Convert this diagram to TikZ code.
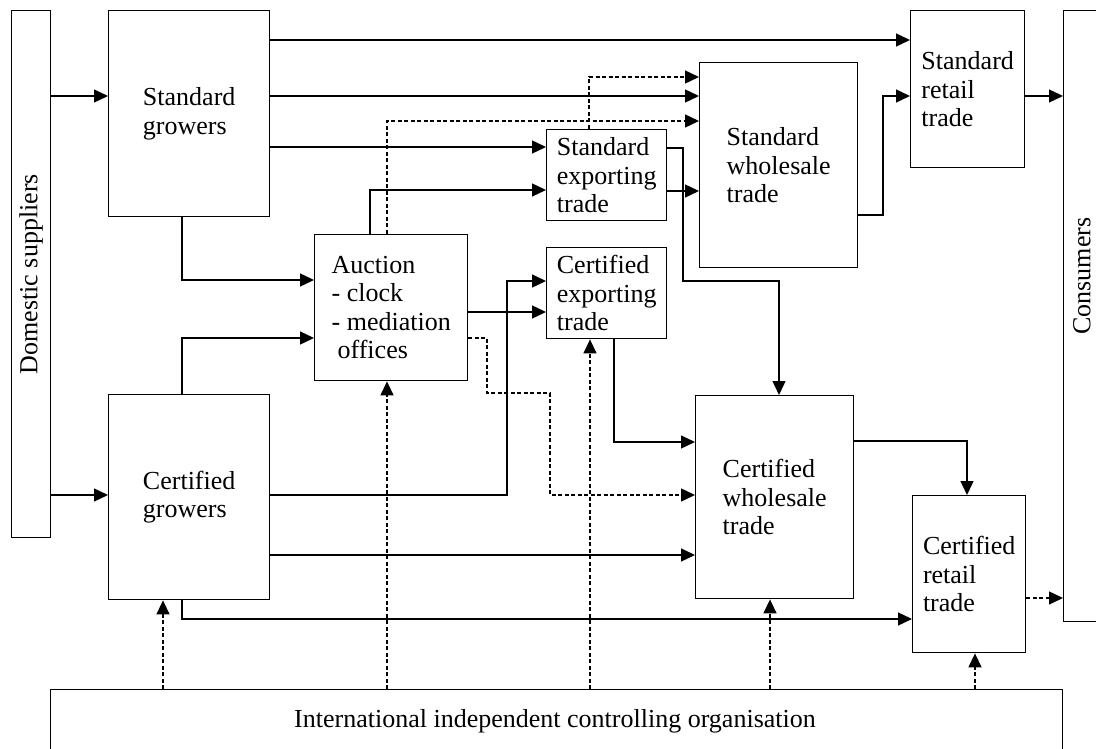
\documentclass[tikz,border=0pt]{standalone}
\usepackage{fontspec}
\setmainfont{Liberation Serif}
\usetikzlibrary{arrows.meta}
\begin{document}
\begin{tikzpicture}[x=1pt,y=-1pt,
  box/.style={draw, line width=1.4pt, rectangle, inner sep=0pt, anchor=north west, align=left, font=\fontsize{26}{28.5}\selectfont},
  txt/.style={inner sep=0pt, font=\fontsize{26}{28.5}\selectfont},
  ln/.style={line width=1.4pt},
  arr/.style={ln, -{Triangle[length=14pt,width=13pt]}},
  dsh/.style={dash pattern=on 4pt off 2.5pt}]
\useasboundingbox (0,0) rectangle (1096,749);

% boxes
\node[box, minimum width=39pt,  minimum height=527pt] (dom)  at (11,10)  {};
\node[txt, rotate=90] at (dom.center) {Domestic suppliers};
\node[box, minimum width=161pt, minimum height=206pt] (sg)   at (108,10)  {Standard\\growers};
\node[box, minimum width=161pt, minimum height=205pt] (cg)   at (108,394) {Certified\\growers};
\node[box, minimum width=153pt, minimum height=146pt] (auc)  at (314,234) {Auction\\- clock\\- mediation\\\hspace*{6pt}offices};
\node[box, minimum width=120pt, minimum height=91pt]  (sexp) at (546,129) {Standard\\exporting\\trade};
\node[box, minimum width=120pt, minimum height=91pt]  (cexp) at (546,247) {Certified\\exporting\\trade};
\node[box, minimum width=158pt, minimum height=205pt] (swh)  at (699,62)  {Standard\\wholesale\\trade};
\node[box, minimum width=158pt, minimum height=203pt] (cwh)  at (695,395) {Certified\\wholesale\\trade};
\node[box, minimum width=114pt, minimum height=157pt] (sret) at (910,10)  {Standard\\retail\\trade};
\node[box, minimum width=113pt, minimum height=157pt] (cret) at (912,495) {Certified\\retail\\trade};
\node[box, minimum width=70pt,  minimum height=611pt] (con)  at (1063,10) {};
\node[txt, rotate=90] at (1082,276) {Consumers};
\node[box, minimum width=1012pt, minimum height=64pt] (org)  at (50,689)  {};
\node[txt, anchor=base] at (555,727) {International independent controlling organisation};

% connectors
\draw[arr] (dom.east |- 0,96) -- (sg.west |- 0,96);
\draw[arr] (dom.east |- 0,495) -- (cg.west |- 0,495);
\draw[arr] (sg.east |- 0,40) -- (sret.west |- 0,40);
\draw[arr] (sg.east |- 0,96) -- (swh.west |- 0,96);
\draw[arr] (sg.east |- 0,147) -- (sexp.west |- 0,147);
\draw[arr] (sg.south -| 182,0) |- (auc.west |- 0,280);
\draw[arr] (cg.north -| 182,0) |- (auc.west |- 0,338);
\draw[arr] (auc.north -| 370,0) |- (sexp.west |- 0,190);
\draw[arr,dsh] (auc.north -| 387,0) |- (swh.west |- 0,121);
\draw[arr,dsh] (sexp.north -| 589,0) |- (swh.west |- 0,77);
\draw[arr] (sexp.east |- 0,191) -- (swh.west |- 0,191);
\draw[arr] (sexp.east |- 0,148) -| (683,281) -| (cwh.north -| 779,0);
\draw[arr] (swh.east |- 0,215) -| (883,96) -- (sret.west |- 0,96);
\draw[arr] (sret.east |- 0,96) -- (con.west |- 0,96);
\draw[arr] (auc.east |- 0,312) -- (cexp.west |- 0,312);
\draw[arr] (cg.east |- 0,495) -| (507,281) -- (cexp.west |- 0,281);
\draw[arr,dsh] (auc.east |- 0,338) -| (487,393) -| (550,495) -- (cwh.west |- 0,495);
\draw[arr] (cexp.south -| 614,0) |- (cwh.west |- 0,442);
\draw[arr] (cg.east |- 0,555) -- (cwh.west |- 0,555);
\draw[arr] (cg.south -| 182,0) |- (cret.west |- 0,619);
\draw[arr] (cwh.east |- 0,441) -| (cret.north -| 967,0);
\draw[arr,dsh] (cret.east |- 0,598) -- (con.west |- 0,598);
\foreach \xx/\nn in {163/cg, 387/auc, 590/cexp, 770/cwh, 975/cret}
  \draw[arr,dsh] (org.north -| \xx,0) -- (\nn.south -| \xx,0);
\end{tikzpicture}
\end{document}
